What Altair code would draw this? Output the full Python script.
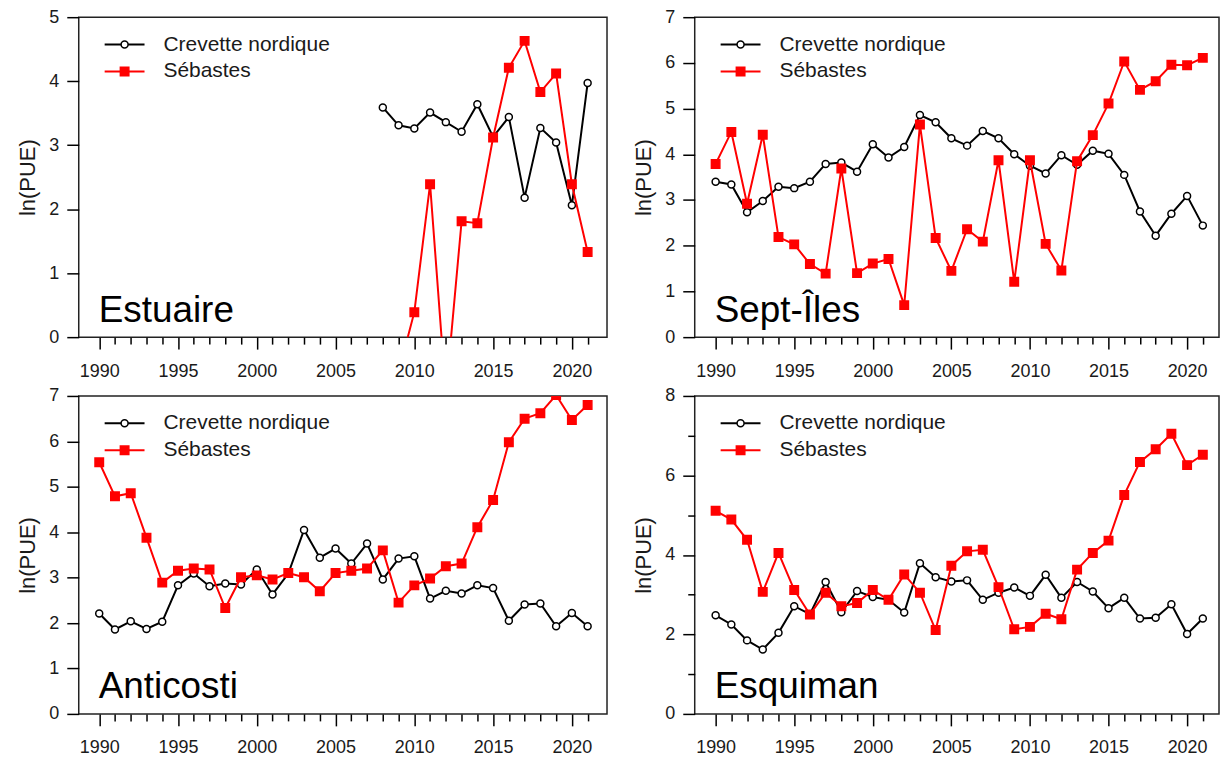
import altair as alt
import pandas as pd

FONT = "Liberation Sans"
TEXT = "#1a1a1a"

SERIES = ["Crevette nordique", "Sébastes"]
SERIES_COLORS = ["#000000", "#ff0000"]
SERIES_SHAPES = ["circle", "square"]
SERIES_FILLS = ["#ffffff", "#ff0000"]
SERIES_SIZES = [49, 72]

YEARS = list(range(1990, 2022))

# Estuaire: shorter series
est_crev_years = list(range(2008, 2022))
est_crev = [3.59, 3.31, 3.26, 3.51, 3.36, 3.21, 3.64, 3.13, 3.44, 2.18, 3.27, 3.04, 2.06, 3.97]
est_seb_years = list(range(2009, 2022))
est_seb = [-0.55, 0.39, 2.39, -0.90, 1.81, 1.78, 3.12, 4.21, 4.63, 3.83, 4.12, 2.39, 1.33]

# Sept-Îles
sept_crev = [3.40, 3.34, 2.73, 2.98, 3.29, 3.26, 3.40, 3.79, 3.82, 3.62,
             4.22, 3.93, 4.16, 4.86, 4.70, 4.35, 4.19, 4.51, 4.35, 4.00,
             3.75, 3.58, 3.98, 3.77, 4.08, 4.01, 3.55, 2.75, 2.22, 2.70,
             3.09, 2.44]
sept_seb = [3.79, 4.49, 2.92, 4.43, 2.19, 2.03, 1.60, 1.39, 3.69, 1.40,
            1.61, 1.71, 0.70, 4.65, 2.17, 1.45, 2.36, 2.09, 3.87, 1.21,
            3.87, 2.04, 1.46, 3.85, 4.42, 5.11, 6.03, 5.41, 5.60, 5.96,
            5.95, 6.11]

# Anticosti
anti_crev = [2.21, 1.86, 2.04, 1.87, 2.03, 2.83, 3.09, 2.81, 2.87, 2.85,
             3.18, 2.63, 3.09, 4.05, 3.44, 3.64, 3.31, 3.75, 2.96, 3.42,
             3.47, 2.54, 2.71, 2.65, 2.83, 2.77, 2.05, 2.41, 2.43, 1.93,
             2.22, 1.93]
anti_seb = [5.54, 4.79, 4.86, 3.88, 2.89, 3.15, 3.20, 3.18, 2.33, 3.01,
            3.05, 2.96, 3.10, 3.01, 2.70, 3.10, 3.15, 3.20, 3.60, 2.45,
            2.83, 2.98, 3.25, 3.31, 4.11, 4.71, 5.98, 6.50, 6.62, 7.02,
            6.47, 6.80]

# Esquiman
esq_crev = [2.48, 2.25, 1.85, 1.62, 2.04, 2.71, 2.51, 3.32, 2.56, 3.09,
            2.94, 2.87, 2.55, 3.79, 3.44, 3.33, 3.36, 2.87, 3.05, 3.18,
            2.97, 3.50, 2.92, 3.32, 3.08, 2.66, 2.92, 2.40, 2.42, 2.76,
            2.01, 2.40]
esq_seb = [5.11, 4.89, 4.38, 3.07, 4.05, 3.12, 2.50, 3.05, 2.71, 2.79,
           3.12, 2.87, 3.51, 3.05, 2.11, 3.73, 4.09, 4.13, 3.19, 2.13,
           2.19, 2.52, 2.38, 3.63, 4.05, 4.36, 5.51, 6.34, 6.66, 7.05,
           6.26, 6.52]


def make_panel(name, series_data, ymax, minor_step, major_step, width, height, xdomain):
    x_axis = alt.Axis(
        values=YEARS, format="d",
        labelExpr="datum.value % 5 === 0 ? datum.label : ''",
        tickSize={"condition": {"test": "datum.value % 5 === 0", "value": 12}, "value": 7},
        grid=False, domain=False, title=None,
        labelFont=FONT, labelFontSize=18, labelColor=TEXT, labelPadding=13,
        labelOverlap=False, labelFlush=False,
        tickColor="#000000", tickWidth=1.5,
    )
    n = int(round(ymax / minor_step))
    y_values = [i * minor_step for i in range(n + 1)]
    y_axis = alt.Axis(
        values=y_values, format="d",
        labelExpr=f"datum.value % {major_step} === 0 ? datum.label : ''",
        tickSize={"condition": {"test": f"datum.value % {major_step} === 0", "value": 12}, "value": 7},
        grid=False, domain=False,
        title="ln(PUE)", titleFont=FONT, titleFontSize=22, titleFontWeight="normal",
        titleColor=TEXT, titlePadding=9,
        labelFont=FONT, labelFontSize=18, labelColor=TEXT, labelPadding=8,
        labelOverlap=False, labelFlush=False,
        tickColor="#000000", tickWidth=1.5,
    )
    x_enc = alt.X("year:Q", scale=alt.Scale(domain=xdomain, nice=False, zero=False), axis=x_axis)
    y_enc = alt.Y("value:Q", scale=alt.Scale(domain=[0, ymax], nice=False, zero=False), axis=y_axis)

    layers = []
    for (years, values), color, shape, fill, size in zip(
        series_data, SERIES_COLORS, SERIES_SHAPES, SERIES_FILLS, SERIES_SIZES
    ):
        base = alt.Chart(pd.DataFrame({"year": years, "value": values}))
        layers.append(base.mark_line(color=color, strokeWidth=2, clip=True).encode(x=x_enc, y=y_enc))
        layers.append(
            base.mark_point(shape=shape, filled=True, fill=fill, stroke=color, strokeWidth=1.5,
                            size=size, opacity=1, clip=True).encode(x=x_enc, y=y_enc)
        )

    # key in the upper-left corner of the panel
    for i, (label, color, shape, fill, size) in enumerate(
        zip(SERIES, SERIES_COLORS, SERIES_SHAPES, SERIES_FILLS, SERIES_SIZES)
    ):
        ky = 27.5 + 27 * i
        key = alt.Chart(pd.DataFrame({"series": [label]}))
        layers.append(key.mark_rule(color=color, strokeWidth=2).encode(
            x=alt.value(26), x2=alt.value(66), y=alt.value(ky)))
        layers.append(key.mark_point(shape=shape, filled=True, fill=fill, stroke=color,
                                     strokeWidth=1.5, size=size, opacity=1).encode(
            x=alt.value(46), y=alt.value(ky)))
        layers.append(key.mark_text(align="left", baseline="middle", font=FONT, fontSize=21,
                                    color=TEXT).encode(
            x=alt.value(85), y=alt.value(ky), text="series:N"))

    region = alt.Chart(pd.DataFrame({"region": [name]})).mark_text(
        align="left", baseline="alphabetic", font=FONT, fontSize=37, color="#000000"
    ).encode(x=alt.value(20), y=alt.value(height - 15.5), text="region:N")
    layers.append(region)

    return alt.layer(*layers).properties(width=width, height=height)


p_est = make_panel("Estuaire", [(est_crev_years, est_crev), (est_seb_years, est_seb)],
                   5, 0.5, 1, 530, 321, [1988.70, 2022.23])
p_sept = make_panel("Sept-Îles", [(YEARS, sept_crev), (YEARS, sept_seb)],
                    7, 0.5, 1, 526, 321, [1988.67, 2022.03])
p_anti = make_panel("Anticosti", [(YEARS, anti_crev), (YEARS, anti_seb)],
                    7, 0.5, 1, 530, 319, [1988.70, 2022.23])
p_esq = make_panel("Esquiman", [(YEARS, esq_crev), (YEARS, esq_seb)],
                   8, 1, 2, 526, 319, [1988.67, 2022.03])

chart = alt.vconcat(
    alt.hconcat(p_est, p_sept, spacing=24),
    alt.hconcat(p_anti, p_esq, spacing=24),
    spacing=5,
).properties(
    padding={"left": 16, "top": 6, "right": 0, "bottom": 0},
    background="#ffffff",
).configure_view(stroke="#222222", strokeWidth=1.5)

chart.save("out.html", embed_options={"renderer": "svg", "actions": False})
